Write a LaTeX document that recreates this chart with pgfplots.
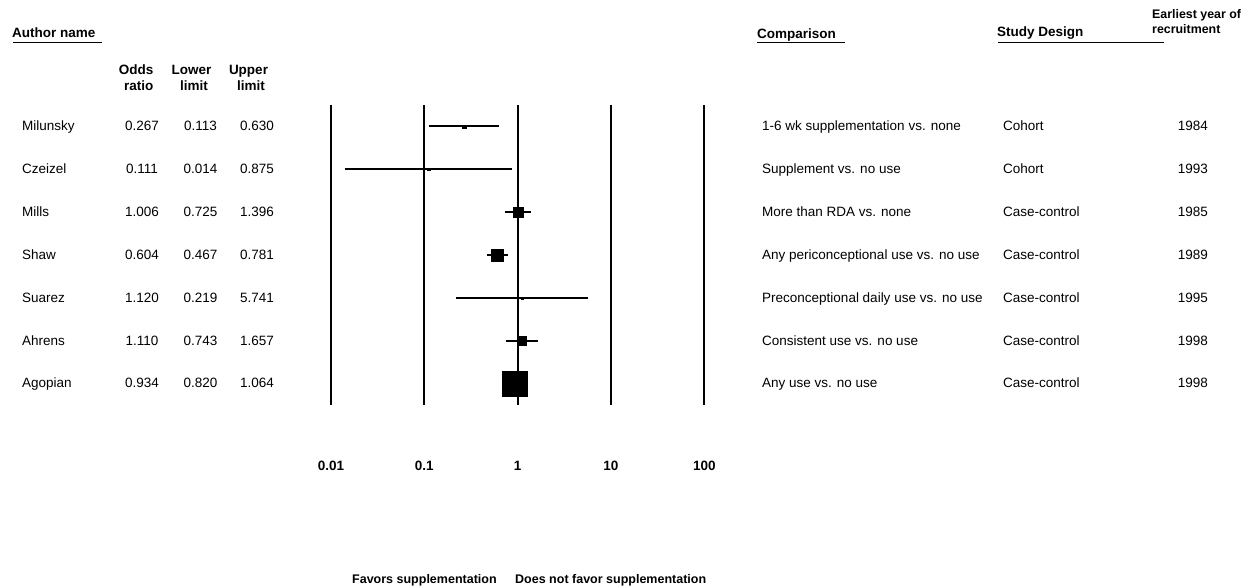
\documentclass[border=0pt]{standalone}
\usepackage{pgfplots}
\pgfplotsset{compat=1.18}
\usepackage{fontspec}
\setmainfont{Liberation Sans}
\newcommand\rf{\fontsize{13.5}{16}\selectfont}
\newcommand\bff{\fontsize{13.5}{16}\selectfont\bfseries}
\begin{document}
\begin{tikzpicture}
\useasboundingbox (0pt,0pt) rectangle (1256pt,588pt);
\begin{axis}[at={(331pt,183pt)}, anchor=south west, width=373.3pt, height=300pt, scale only axis,
  xmode=log, xmin=0.01, xmax=100, ymin=0.5, ymax=7.5,
  axis line style={draw=none}, xtick={0.01,0.1,1,10,100},
  xticklabels={\textbf{0.01},\textbf{0.1},\textbf{1},\textbf{10},\textbf{100}},
  minor xtick={}, ytick=\empty, major tick length=0pt, minor tick length=0pt,
  tick style={draw=none},
  xticklabel style={font=\bff, anchor=center, yshift=-61pt},
  clip=false, /pgf/number format/assume math mode=true]
% reference lines
\addplot[black, line width=2pt] coordinates {(0.01,0.5) (0.01,7.5)};
\addplot[black, line width=2pt] coordinates {(0.1,0.5) (0.1,7.5)};
\addplot[black, line width=2pt] coordinates {(1,0.5) (1,7.5)};
\addplot[black, line width=2pt] coordinates {(10,0.5) (10,7.5)};
\addplot[black, line width=2pt] coordinates {(100,0.5) (100,7.5)};
% confidence intervals
\addplot[black, line width=2.1pt] coordinates {(0.113,7) (0.630,7)};
\addplot[black, line width=2.1pt] coordinates {(0.014,6) (0.875,6)};
\addplot[black, line width=2.1pt] coordinates {(0.725,5) (1.396,5)};
\addplot[black, line width=2.1pt] coordinates {(0.467,4) (0.781,4)};
\addplot[black, line width=2.1pt] coordinates {(0.219,3) (5.741,3)};
\addplot[black, line width=2.1pt] coordinates {(0.743,2) (1.657,2)};
\addplot[black, line width=2.1pt] coordinates {(0.820,1) (1.064,1)};
% point estimates
\addplot[only marks, mark=square*, mark size=1.6pt, black] coordinates {(0.267,7)};
\addplot[only marks, mark=square*, mark size=1.3pt, black] coordinates {(0.111,6)};
\addplot[only marks, mark=square*, mark size=5pt, black] coordinates {(1.006,5)};
\addplot[only marks, mark=square*, mark size=6.2pt, black] coordinates {(0.604,4)};
\addplot[only marks, mark=square*, mark size=1.1pt, black] coordinates {(1.120,3)};
\addplot[only marks, mark=square*, mark size=4.1pt, black] coordinates {(1.110,2)};
\addplot[only marks, mark=square*, mark size=12.2pt, black] coordinates {(0.934,1)};
\end{axis}
\begin{scope}[x=1pt,y=1pt]
% headers
\node[anchor=base west, inner sep=0, font=\bff] at (12,550) {Author name};
\draw[line width=1pt] (13,545.3) -- (102,545.3);
\node[anchor=base east, inner sep=0, font=\bff] at (153.5,513) {Odds};
\node[anchor=base east, inner sep=0, font=\bff] at (153.5,497) {ratio};
\node[anchor=base, inner sep=0, font=\bff] at (191.5,513) {Lower};
\node[anchor=base, inner sep=0, font=\bff] at (194,497) {limit};
\node[anchor=base, inner sep=0, font=\bff] at (248.5,513) {Upper};
\node[anchor=base, inner sep=0, font=\bff] at (251,497) {limit};
\node[anchor=base west, inner sep=0, font=\bff] at (757,549.5) {Comparison};
\draw[line width=1pt] (757,545.3) -- (845,545.3);
\node[anchor=base west, inner sep=0, font=\bff] at (997,551) {Study Design};
\draw[line width=1pt] (998,545) -- (1164,545);
\node[anchor=base west, inner sep=0, font=\fontsize{12.4}{15}\selectfont\bfseries] at (1152,569.5) {Earliest year of};
\node[anchor=base west, inner sep=0, font=\fontsize{12.4}{15}\selectfont\bfseries] at (1152,554.5) {recruitment};
% rows
\foreach \y/\a/\o/\l/\u/\c/\d/\yr in {
  457/Milunsky/0.267/0.113/0.630/{1-6 wk supplementation vs. none}/Cohort/1984,
  414.2/Czeizel/0.111/0.014/0.875/{Supplement vs. no use}/Cohort/1993,
  371.3/Mills/1.006/0.725/1.396/{More than RDA vs. none}/Case-control/1985,
  328.5/Shaw/0.604/0.467/0.781/{Any periconceptional use vs. no use}/Case-control/1989,
  285.7/Suarez/1.120/0.219/5.741/{Preconceptional daily use vs. no use}/Case-control/1995,
  242.8/Ahrens/1.110/0.743/1.657/{Consistent use vs. no use}/Case-control/1998,
  200/Agopian/0.934/0.820/1.064/{Any use vs. no use}/Case-control/1998}{
  \node[anchor=base west, inner sep=0, font=\rf] at (22,\y) {\a};
  \node[anchor=base, inner sep=0, font=\rf] at (142,\y) {\o};
  \node[anchor=base, inner sep=0, font=\rf] at (200.5,\y) {\l};
  \node[anchor=base, inner sep=0, font=\rf] at (257,\y) {\u};
  \node[anchor=base west, inner sep=0, font=\rf] at (762,\y) {\c};
  \node[anchor=base west, inner sep=0, font=\rf] at (1003,\y) {\d};
  \node[anchor=base east, inner sep=0, font=\rf] at (1208,\y) {\yr};
}
% bottom
\node[anchor=base west, inner sep=0, font=\fontsize{12.5}{15}\selectfont\bfseries] at (352,4) {Favors supplementation};
\node[anchor=base west, inner sep=0, font=\fontsize{12.5}{15}\selectfont\bfseries] at (515,4) {Does not favor supplementation};
\end{scope}
\end{tikzpicture}
\end{document}
